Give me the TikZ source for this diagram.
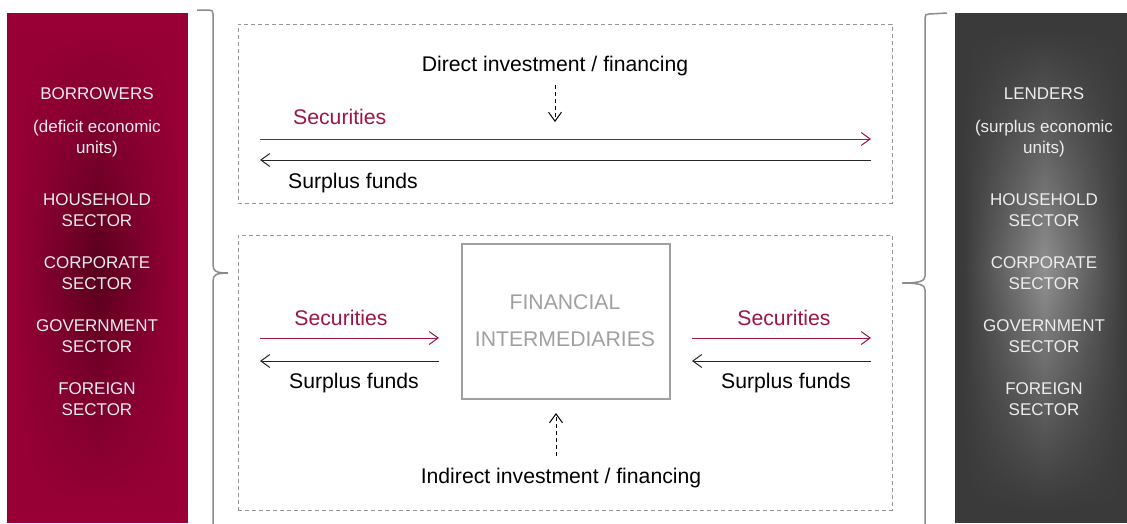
\documentclass[tikz,border=0pt]{standalone}
\usepackage{fontspec}
\setmainfont{Liberation Sans}
\usetikzlibrary{arrows.meta,fadings}
\definecolor{secred}{RGB}{158,20,68}
\definecolor{redbase}{RGB}{152,0,54}
\definecolor{reddark}{RGB}{88,0,30}
\definecolor{graybase}{RGB}{58,58,58}
\definecolor{graylight}{RGB}{145,145,145}
\definecolor{bracegray}{RGB}{140,140,140}
\definecolor{dashgray}{RGB}{150,150,150}
\definecolor{fingray}{RGB}{160,160,160}
\tikzfading[name=midfade, top color=transparent!100, bottom color=transparent!100, middle color=transparent!0]
\tikzset{
  sidetext/.style={anchor=base, align=center, text=white!93!black, font=\fontsize{17}{21}\selectfont, inner sep=0pt},
  maintext/.style={anchor=base, inner sep=0pt, font=\fontsize{21.2}{25}\selectfont},
  redtext/.style={maintext, text=secred},
  fintext/.style={maintext, text=fingray, align=center, font=\fontsize{21.2}{37}\selectfont},
  tip/.style={-{Straight Barb[length=9pt,width=13pt,line width=1pt]}},
  secarrow/.style={tip, draw=secred, line width=1pt},
  fundarrow/.style={tip, draw=black!85, line width=1pt},
  dasharrow/.style={tip, draw=black, line width=1pt, dash pattern=on 4pt off 3pt},
  dashbox/.style={draw=dashgray, line width=1pt, dash pattern=on 4pt off 3pt},
  brace/.style={draw=bracegray, line width=1.5pt},
}
\begin{document}
\begin{tikzpicture}[x=1pt,y=-1pt]
\useasboundingbox (0,0) rectangle (1127,523);
% side panels
\fill[redbase] (7,13) rectangle (188,523);
\shade[left color=redbase, right color=redbase, middle color=reddark, path fading=midfade] (14,30) rectangle (181,510);
\fill[graybase] (955,13) rectangle (1127,523);
\shade[left color=graybase, right color=graybase, middle color=graylight, path fading=midfade] (962,30) rectangle (1127,510);
% left panel text (base = baseline of last line)
\node[sidetext] (bor) at (97,99) {BORROWERS};
\node[sidetext] (defu) at (97,153) {(deficit economic\\units)};
\node[sidetext] (lhh) at (97,226) {HOUSEHOLD\\SECTOR};
\node[sidetext] (lcorp) at (97,289) {CORPORATE\\SECTOR};
\node[sidetext] (lgov) at (97,352) {GOVERNMENT\\SECTOR};
\node[sidetext] (lfor) at (97,415) {FOREIGN\\SECTOR};
% right panel text
\node[sidetext] (len) at (1044,99) {LENDERS};
\node[sidetext] (suru) at (1044,153) {(surplus economic\\units)};
\node[sidetext] (rhh) at (1044,226) {HOUSEHOLD\\SECTOR};
\node[sidetext] (rcorp) at (1044,289) {CORPORATE\\SECTOR};
\node[sidetext] (rgov) at (1044,352) {GOVERNMENT\\SECTOR};
\node[sidetext] (rfor) at (1044,415) {FOREIGN\\SECTOR};
% braces
\draw[brace] (197,10) -- (209,10) .. controls (212,10) and (213,11) .. (213,14) -- (213,265)
  .. controls (213,271) and (216,273) .. (228,273) .. controls (216,273) and (213,275) .. (213,281) -- (213,530);
\draw[brace] (947,13) -- (929,14) .. controls (926,14) and (925,15) .. (925,18) -- (925,276)
  .. controls (925,281) and (920,283) .. (902,283) .. controls (920,283) and (925,285) .. (925,290) -- (925,530);
% dashed frames
\node[dashbox, minimum width=654pt, minimum height=179pt, inner sep=0pt] (topbox) at (565,113.5) {};
\node[dashbox, minimum width=654pt, minimum height=275pt, inner sep=0pt] (botbox) at (565,372.5) {};
% top frame content
\node[maintext] (direct) at (555,71) {Direct investment / financing};
\coordinate (d1) at (555,85);
\coordinate (d2) at (555,122);
\draw[dasharrow] (d1) -- (d2);
\node[redtext, anchor=base west] (sec1) at (293,124) {Securities};
\coordinate (s1a) at (260,139);
\coordinate (s1b) at (871,139);
\draw[secarrow] (s1a) -- (s1b);
\coordinate (f1a) at (871,160);
\coordinate (f1b) at (260,160);
\draw[fundarrow] (f1a) -- (f1b);
\node[maintext, anchor=base west] (sur1) at (288,188) {Surplus funds};
% bottom frame content
\node[draw=fingray, line width=1.5pt, minimum width=208pt, minimum height=155pt, inner sep=0pt] (fin) at (566,321.5) {};
\node[fintext] (fintxt) at (565,346) {FINANCIAL\\INTERMEDIARIES};
\node[redtext] (sec2) at (341,325) {Securities};
\node[redtext] (sec3) at (784,325) {Securities};
\coordinate (s2a) at (260,338);
\coordinate (s2b) at (439,338);
\draw[secarrow] (s2a) -- (s2b);
\coordinate (f2a) at (439,361);
\coordinate (f2b) at (260,361);
\draw[fundarrow] (f2a) -- (f2b);
\coordinate (s3a) at (692,338);
\coordinate (s3b) at (871,338);
\draw[secarrow] (s3a) -- (s3b);
\coordinate (f3a) at (871,361);
\coordinate (f3b) at (692,361);
\draw[fundarrow] (f3a) -- (f3b);
\node[maintext] (sur2) at (354,388) {Surplus funds};
\node[maintext] (sur3) at (786,388) {Surplus funds};
\coordinate (i1) at (556,456);
\coordinate (i2) at (556,413);
\draw[dasharrow] (i1) -- (i2);
\node[maintext] (indirect) at (561,483) {Indirect investment / financing};
\end{tikzpicture}
\end{document}
